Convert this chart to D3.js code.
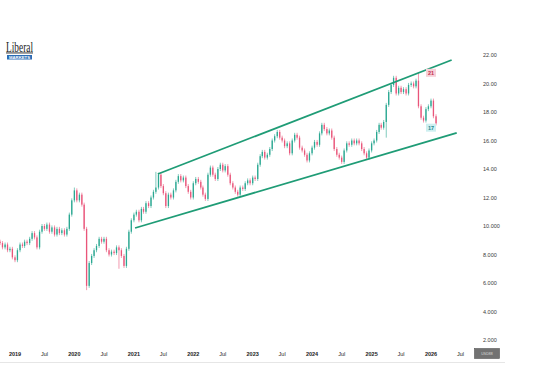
<!DOCTYPE html>
<html>
<head>
<meta charset="utf-8">
<script src="https://cdn.jsdelivr.net/npm/d3@7"></script>
<style>
  html, body { margin: 0; padding: 0; background: #fff; }
  svg { display: block; font-family: "Liberation Sans", Arial, sans-serif; }
</style>
</head>
<body>
<svg id="chart" width="550" height="386"></svg>
<script>
// half-monthly closes (1st and 16th of each month)
var closes2018 = [8.8, 8.5, 8.7, 8.3, 8.4, 7.8];
var closes2019 = [7.6, 8.3, 8.7, 8.6, 8.9, 8.8, 9.1, 9.5, 9.2, 8.5, 9.6, 10.0, 9.8, 10.1, 9.6, 9.9, 9.4, 9.8, 9.5, 9.7, 9.4, 9.8, 10.8, 11.8];
var closes2020 = [12.5, 11.8, 12.2, 11.5, 9.8, 5.8, 7.4, 7.9, 8.3, 8.6, 9.1, 8.9, 9.1, 8.3, 8.0, 8.2, 8.1, 8.5, 8.3, 7.9, 7.2, 8.4, 9.6, 10.4];
var closes2021 = [10.8, 11.0, 10.4, 11.2, 11.0, 11.6, 11.4, 12.0, 12.4, 12.7, 13.6, 12.8, 12.3, 11.4, 12.2, 12.0, 12.5, 13.1, 13.5, 13.2, 13.4, 12.8, 12.4, 12.0];
var closes2022 = [13.0, 13.3, 13.1, 12.7, 12.2, 11.9, 13.6, 14.1, 13.6, 13.3, 14.0, 14.3, 13.9, 14.2, 13.6, 13.0, 12.7, 12.4, 12.2, 12.7, 12.6, 13.0, 13.2, 13.0];
var closes2023 = [13.4, 13.3, 14.3, 14.9, 15.2, 14.8, 15.0, 15.4, 16.0, 16.3, 16.6, 16.2, 16.0, 15.6, 15.8, 15.1, 16.0, 16.4, 16.2, 15.5, 15.3, 15.0, 14.6, 15.1];
var closes2024 = [15.5, 15.9, 15.7, 16.5, 17.1, 16.8, 16.5, 16.7, 16.2, 15.4, 15.0, 14.8, 14.5, 15.3, 15.8, 15.7, 16.0, 15.8, 16.0, 15.8, 15.4, 15.1, 14.8, 15.3];
var closes2025 = [15.8, 16.0, 16.6, 17.1, 16.9, 17.3, 18.5, 19.4, 19.9, 20.4, 19.3, 19.7, 19.4, 19.6, 19.3, 19.9, 20.0, 19.8, 20.2, 18.4, 17.6, 17.4, 18.2, 18.4];
var closes2026 = [18.8, 17.7, 17.2];
var firstOpen = 8.9;

// notable wick extremes
var wickLows = [{ date: "2020-03-16", value: 5.5 }, { date: "2020-10-01", value: 7.0 }, { date: "2025-04-01", value: 16.2 }];
var wickHighs = [{ date: "2020-01-01", value: 12.7 }, { date: "2021-05-16", value: 13.8 }, { date: "2025-10-16", value: 20.8 }];

// channel lines
var upperLine = [{ date: "2021-05-28", value: 13.65 }, { date: "2026-05-08", value: 21.65 }];
var lowerLine = [{ date: "2021-01-08", value: 9.86 }, { date: "2026-06-08", value: 16.53 }];

var yTicks = [22, 20, 18, 16, 14, 12, 10, 8, 6, 4, 2];
var yTickLabels = ["22.00", "20.00", "18.00", "16.00", "14.00", "12.00", "10.000", "8.000", "6.000", "4.000", "2.000"];
var xTickLabels = ["2019", "Jul", "2020", "Jul", "2021", "Jul", "2022", "Jul", "2023", "Jul", "2024", "Jul", "2025", "Jul", "2026", "Jul"];

var markerHigh = { date: "2026-01-01", value: 20.75, text: "21" };
var markerLow = { date: "2026-01-01", value: 16.9, text: "17" };

var parse = d3.timeParse("%Y-%m-%d");

// build candles
var yearSets = [[2018, closes2018, 9], [2019, closes2019, 0], [2020, closes2020, 0], [2021, closes2021, 0],
  [2022, closes2022, 0], [2023, closes2023, 0], [2024, closes2024, 0], [2025, closes2025, 0], [2026, closes2026, 0]];
var candles = [];
var prev = firstOpen;
yearSets.forEach(function (ys) {
  ys[1].forEach(function (c, k) {
    var m = ys[2] + Math.floor(k / 2);
    var d = new Date(ys[0], m, k % 2 === 0 ? 1 : 16);
    candles.push({ date: d, open: prev, close: c });
    prev = c;
  });
});
var fmt = d3.timeFormat("%Y-%m-%d");
candles.forEach(function (c) {
  var key = fmt(c.date);
  wickLows.forEach(function (w) { if (w.date === key) c.low = w.value; });
  wickHighs.forEach(function (w) { if (w.date === key) c.high = w.value; });
});

var svg = d3.select("#chart");

var x = d3.scaleTime()
  .domain([new Date(2019, 0, 1), new Date(2026, 0, 1)])
  .range([15, 431]);
var y = d3.scaleLinear().domain([2, 22]).range([340, 55]);

// candles
var up = "#2ba892", down = "#e9557a";
var g = svg.append("g");
var items = g.selectAll("g.candle").data(candles).enter().append("g")
  .attr("class", "candle")
  .attr("stroke", function (d) { return d.close >= d.open ? up : down; })
  .attr("fill", function (d) { return d.close >= d.open ? up : down; });

items.append("line")
  .attr("x1", function (d) { return x(d.date); })
  .attr("x2", function (d) { return x(d.date); })
  .attr("y1", function (d) { return d.high ? y(d.high) : y(Math.max(d.open, d.close)) - 2; })
  .attr("y2", function (d) { return d.low ? y(d.low) : y(Math.min(d.open, d.close)) + 2; })
  .attr("stroke-width", 0.6);

items.append("rect")
  .attr("x", function (d) { return x(d.date) - 0.65; })
  .attr("width", 1.3)
  .attr("y", function (d) { return y(Math.max(d.open, d.close)); })
  .attr("height", function (d) { return Math.max(0.6, Math.abs(y(d.open) - y(d.close))); })
  .attr("stroke", "none");

// channel
var line = d3.line()
  .x(function (d) { return x(parse(d.date)); })
  .y(function (d) { return y(d.value); });
[upperLine, lowerLine].forEach(function (l) {
  svg.append("path").datum(l)
    .attr("d", line)
    .attr("fill", "none")
    .attr("stroke", "#1f9c76")
    .attr("stroke-width", 1.8);
});

// markers
function marker(m, bg, fg) {
  var mx = x(parse(m.date)), my = y(m.value);
  svg.append("rect").attr("x", mx - 5).attr("y", my - 4).attr("width", 10).attr("height", 8)
    .attr("fill", bg);
  svg.append("text").attr("x", mx).attr("y", my + 2).attr("text-anchor", "middle")
    .attr("font-size", 5.5).attr("font-weight", "bold").attr("fill", fg).text(m.text);
}
marker(markerHigh, "#f7d0d8", "#c2314f");
marker(markerLow, "#cdeff0", "#1f8a92");

// y axis labels
svg.append("g").selectAll("text").data(yTicks).enter().append("text")
  .attr("x", 483)
  .attr("y", function (d) { return y(d) + 2; })
  .attr("font-size", 5.5)
  .attr("fill", "#3a3a3a")
  .text(function (d, i) { return yTickLabels[i]; });

// x axis labels
var xTicks = xTickLabels.map(function (t, i) {
  return new Date(2019 + Math.floor(i / 2), (i % 2) * 6, 1);
});
svg.append("g").selectAll("text").data(xTicks).enter().append("text")
  .attr("x", function (d) { return x(d); })
  .attr("y", 356)
  .attr("text-anchor", "middle")
  .attr("font-size", 5.5)
  .attr("font-weight", function (d, i) { return i % 2 === 0 ? "bold" : "normal"; })
  .attr("fill", "#222")
  .text(function (d, i) { return xTickLabels[i]; });

svg.append("line").attr("x1", 0).attr("x2", 505).attr("y1", 362.5).attr("y2", 362.5)
  .attr("stroke", "#e6e6e6").attr("stroke-width", 1);

// currency button
svg.append("rect").attr("x", 474.5).attr("y", 348.5).attr("width", 25).attr("height", 10)
  .attr("fill", "#727272").attr("stroke", "#555").attr("stroke-width", 0.6);
svg.append("text").attr("x", 487).attr("y", 355).attr("text-anchor", "middle")
  .attr("font-size", 3.5).attr("fill", "#ddd").text("USD88");

// logo
svg.append("text").attr("x", 6).attr("y", 51.5)
  .attr("font-family", "Liberation Serif, serif").attr("font-size", 14)
  .attr("textLength", 27).attr("lengthAdjust", "spacingAndGlyphs")
  .attr("fill", "#222").text("Liberal");
svg.append("rect").attr("x", 6).attr("y", 52.5).attr("width", 27).attr("height", 0.9).attr("fill", "#222");
svg.append("rect").attr("x", 7).attr("y", 55).attr("width", 25).attr("height", 4.5).attr("fill", "#2a6db5");
svg.append("text").attr("x", 19.5).attr("y", 58.6).attr("text-anchor", "middle")
  .attr("font-size", 3.4).attr("font-weight", "bold").attr("fill", "#fff")
  .attr("textLength", 21).attr("lengthAdjust", "spacingAndGlyphs").text("MARKETS");
</script>
</body>
</html>
